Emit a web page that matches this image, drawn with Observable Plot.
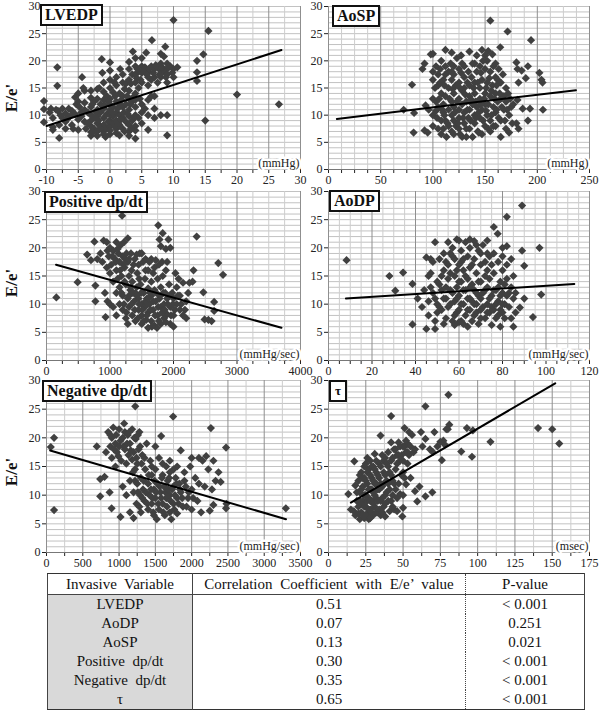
<!DOCTYPE html>
<html><head><meta charset="utf-8">
<script src="https://cdn.jsdelivr.net/npm/d3@7"></script>
<script src="https://cdn.jsdelivr.net/npm/@observablehq/plot@0.6"></script>
<style>
html,body{margin:0;padding:0;background:#fff;}
#fig{position:relative;width:600px;height:713px;background:#fff;font-family:"Liberation Serif","Times New Roman",serif;overflow:hidden;}
#fig svg{position:absolute;}
#fig svg text{paint-order:stroke;font-family:"Liberation Serif","Times New Roman",serif !important;}
.box{position:absolute;border:2px solid #111;background:#fff;font-weight:bold;font-size:16px;line-height:18px;padding:0 3px;white-space:nowrap;color:#111;}
.ylab{position:absolute;font-weight:bold;font-size:17px;transform:translate(-50%,-50%) rotate(-90deg);white-space:nowrap;color:#111;}
table{position:absolute;left:47px;top:573px;width:538px;border-collapse:collapse;font-size:15px;color:#111;}
td{text-align:center;padding:0;height:19px;line-height:19px;}
tr.h td{height:20px;border-bottom:1px solid #444;}
td.c1{width:144px;border-right:1px solid #444;}
td.c2{width:272px;border-right:1.5px dotted #444;word-spacing:4px;}
tr.r td.c1{background:#d9d9d9;}
</style>
</head><body>
<div id="fig"></div>
<script>
// ---------- data ----------
const lvedp = [[-10.4,12.6],[-10.4,11.1],[-10.4,8.7],[-9.5,10.5],[-9,9.5],[-9,7.8],[-9,7.3],[-8.5,11],[-8.3,18.8],[-8.3,15.4],[-8.2,10.8],[-8,5.8],[-8,8.2],[-7.5,11.2],[-7.5,9.5],[-7,10.3],[-7,7.5],[-7,8.8],[-6.5,11.2],[-6.3,9.8],[-6,8.2],[-5.8,7.5],[-5.5,10.2],[-5.5,13.3],[-5.3,12],[-5,14],[-5,12.5],[-5,9.2],[-5,7.3],[-4.5,10.5],[-4.4,17],[-4.2,15],[-4,14.5],[-4,12.3],[-4,11],[-4,8.8],[-3.8,7.5],
[-3,14.5],[-3,13.2],[-3,11.5],[-3,10],[-3,9],[-3,8],[-3,6.9],[-3,6.2],[-2.5,12.5],[-2.5,9.5],[-2.5,7.5],[-2,14.8],[-2,13],[-2,11],[-2,9.8],[-2,8.5],[-2,7],[-2,6.2],[-1.5,12],[-1.5,10.5],[-1.5,8],[-1.3,20.3],[-1.2,17.8],[-1,16],[-1,14.3],[-1,12.8],[-1,11.2],[-1,9.5],[-1,8.2],[-1,7],[-1,6.5],[-0.5,13.5],[-0.5,10.2],[-0.5,7.5],[0,19.7],[0,18.2],[0,16.5],[0,15],[0,13],[0,12],[0,11],[0,10],[0,9],[0,8],[0,7.2],[0,6.5],
[0.5,14.2],[0.5,11.5],[0.5,9.8],[0.5,8.5],[1,17],[1,15.5],[1,12.5],[1,10.5],[1,9],[1,7.5],[1,6.7],[1.5,14],[1.5,12],[1.5,10],[1.5,8.2],[2,17.5],[2,16],[2,13.5],[2,11.5],[2,9.5],[2,7.5],[2.5,15.8],[2.5,12],[2.5,8.8],[3,19.8],[3,18.5],[3,16.5],[3,14.5],[3,13],[3,11],[3,9.8],[3,8.2],[3,7],[3,6.2],[3.5,17.5],[3.5,12.5],[3.5,9],[3.6,21.7],[4,20.5],[4,19],[4,17.5],[4,16],[4,14],[4,12.8],[4,11.5],[4,10],[4,8],[4,7.2],[4,5.7],
[4.5,18],[4.5,15],[4.5,9.5],[5,20.5],[5,19],[5,17.8],[5,16],[5,12],[5,10.5],[5,8.5],[5.7,21.5],[5.5,18.8],[6,18],[6,17],[6,15.5],[6,12.8],[6,10],[6,7.3],[6.6,23.8],[6.5,19],[6.5,16.5],[7,18.5],[7,17],[7,13.5],[7,11.2],[7,9.5],[7.5,18.8],[7.5,16],[8,21.3],[8,19.5],[8,18.2],[8,17],[8,10],[8.5,20.8],[8.5,18],[8.7,22.6],[9,19.5],[9,18.5],[9,17.5],[9,16],[9,10],[9,6.3],[9.5,19],[10,27.5],[10,18.5],[10,17],[10.6,18.8],
[13.7,20],[14.7,21.2],[13.7,17.9],[13.7,16.3],[15.5,25.5],[20,13.8],[26.6,12],[15,9],
[-2.8,12],[-2.2,10.5],[-1.8,9],[-1.6,7.5],[-0.8,11.8],[-0.3,8.8],[-0.2,12.5],[0.3,10.5],[0.8,7.8],[0.8,13.5],[1.2,11.2],[1.3,8.5],[1.8,12.8],[1.7,9.2],[2.2,10.5],[2.3,7],[2.7,13.5],[2.8,10.2],[3.2,12],[3.3,7.5],[3.8,13.5],[3.8,9.5],[4.2,16.8],[4.3,18.5],[4.8,16.5],[5.2,18.2],[5.8,17.5],[6.2,18.5],[6.8,17.8],[7.2,19.2],[7.8,17.5],[8.2,18.8],[8.8,17],[9.2,18.8],[9.8,17.8],[-6,10.8],[-7.8,10],[-9.3,11.2],[-4.8,11.5],[-3.5,10.5],[-3.5,8.5],[-2.7,6.8],[-0.7,6],[1.5,6.3],[-4.5,9.8],[-6.8,9.2],[5.5,11.2],[6.5,13.5],[4.7,13],[2.3,14.8],[-1.7,15],[0.7,16],[1.6,18.5],[3.3,15.8]];
const lvedpTrend = [[-10,8],[27,22]];

const aosp = [[72,11],[80,15.6],[81.5,6.8],[82,10.4],[90,18.5],[92,19.5],[92,7.2],[95,6.8],[93,11.8],[96,11],[98,21.2],[100,21.3],[100,18],[100,16.5],[100,13],[100,10],[100,8],[103,19],[103,12.5],[104,9.5],[105,17.5],[105,15.5],[105,11.5],[105,7.5],[107,18.5],[108,20],[108,14],[108,9],[108,6.5],[110,16.5],[110,12],[110,10.5],[110,7.5],[112,22],[112,19],[112,17.5],[112,13.5],[112,9],[113,6],[115,18],[115,15],[115,11],[115,8],[118,21.5],[118,16.5],[118,12.5],[118,10],[118,7],[120,19],[120,17.5],[120,14],[120,11.5],[120,9],[120,6.5],[122,15.5],[122,8],[123,20.5],[125,18.5],[125,16],[125,13],[125,11],[125,9.5],[125,7.5],[127,21],[128,14.5],[128,12],[128,6],[130,19],[130,17],[130,15],[130,10.5],[130,8.5],[132,12.5],[132,6],[134,18],[134,9.5],[135,21.7],[135,15.5],[135,13.5],[135,11],[135,7.5],[137,17],[138,19.5],[138,12],[138,6],[140,16],[140,14],[140,10],[140,8.5],[142,21],[142,18],[142,11.5],[143,7],[145,19],[145,15],[145,13],[145,9.5],[147,22],[147,16.5],[147,11],[147,6.5],[150,21],[150,18.5],[150,14],[150,12],[150,8],[152,20],[152,16],[152,10],[153,21.8],[155,27.4],[155,18],[155,13.5],[155,9],[155,7],[157,21.2],[157,15.5],[158,11.5],[160,19.5],[160,17],[160,14],[160,10.5],[160,8],[162,12.5],[163,18.5],[164.5,22.5],[165,16],[165,13],[165,9],[165,6],[167,17.5],[168,11],[170,15],[170,12.5],[170,7.5],[171.5,25.4],[172,14],[173,10],[173,6.8],[175,11.5],[176,8.5],[177,12],[180,19.7],[181,18.5],[182,16],[181,12.8],[180,8.5],[182,7.5],[185,18.2],[186,11.2],[189,16.8],[191,19],[191,9],[193,11.2],[194,23.8],[202,17.8],[204,16.5],[205,16],[205.4,11],
[102,15],[106,13],[109,11],[111,15.5],[114,8.5],[116,13],[117,19.5],[119,14.8],[121,10.5],[123,12.5],[124,8.5],[126,15],[127,17.8],[129,9.5],[131,13.8],[133,11],[133,16],[136,9],[137,12.8],[139,15],[141,9.5],[141,12.5],[143,16],[144,10.5],[146,12],[146,17.8],[148,9],[149,13],[151,10.8],[151,15],[153,12],[154,16.8],[156,10],[156,14.5],[158,8],[159,13],[161,11],[161,15.5],[163,9.5],[164,14],[166,11.5],[168,13.5],[169,9],[171,11],[174,13],[118,18],[128,19.5],[140,19.5],[148,20],[132,7.5],[126,6.5],[144,6.8],[153,7.5],[111,10],[107,16],[103,10.8],[158,19],[162,16.5]];
const aospTrend = [[8,9.3],[237,14.6]];

const posdp = [[155,11.2],[490,13.9],[640,18.8],[700,17.8],[755,21.1],[770,13.3],[770,10.5],[800,18],[850,19],[880,17.5],[900,21.3],[920,12],[930,7.7],[950,21],[950,16.5],[960,10.5],[980,18.5],[1000,20],[1000,15.5],[1000,10],[1020,17],[1050,19.5],[1050,14],[1050,9.5],[1080,18],[1100,21],[1100,16],[1100,12],[1100,8],[1130,19],[1150,17.5],[1150,13],[1150,10],[1170,20.5],[1180,15],[1190,25.7],[1200,18.5],[1200,11.5],[1200,9],[1220,21],[1230,16.5],[1250,13.5],[1250,7.5],[1260,19],[1280,21.7],[1280,17.5],[1280,11],[1280,6.5],[1300,15],[1300,9.5],[1320,12.5],[1330,19],[1350,8],[1350,14],[1370,17],[1380,10.5],[1400,12],[1400,7],[1420,18.8],[1430,15.5],[1450,11],[1450,9],[1470,19],[1480,13.5],[1500,8],[1500,10],[1500,6.5],[1520,17.5],[1530,12],[1550,14.5],[1550,9.5],[1560,18],[1570,7.2],[1580,11],[1600,16],[1600,12.8],[1600,8.5],[1600,5.8],[1620,10],[1650,18],[1650,14],[1650,11.5],[1650,7],[1680,9],[1700,16.5],[1700,12.5],[1700,6.2],[1720,10.5],[1740,5.8],[1750,14.5],[1750,8],[1760,24],[1770,17],[1780,21.5],[1780,11],[1800,20.3],[1800,13],[1800,9.5],[1800,6.5],[1830,22.6],[1830,15],[1850,10],[1850,7.5],[1870,12],[1880,19.8],[1900,17.5],[1900,11],[1900,8.2],[1920,21.5],[1930,13.5],[1950,20],[1950,9.5],[1950,6.5],[1980,12],[2000,11],[2000,8],[2000,6],[2030,15.5],[2050,10],[2050,13],[2080,14.5],[2100,9],[2100,11.5],[2150,8],[2150,13.8],[2200,10.5],[2200,7.5],[2230,12],[2250,13.8],[2300,14],[2315,16],[2365,22],[2470,12.1],[2490,7.3],[2550,7.2],[2600,7],[2640,8.8],[2640,10.4],[2705,17.3],[2780,15.2],
[1120,14.5],[1180,12],[1220,10],[1260,8.5],[1300,11.5],[1340,10],[1360,12],[1390,9],[1420,13],[1440,7.5],[1460,10],[1490,12],[1510,9],[1530,7],[1560,10.5],[1580,8],[1600,11],[1630,12],[1640,9],[1660,6],[1680,10.5],[1710,8],[1730,12],[1760,9.5],[1770,7],[1790,11.5],[1820,8.5],[1840,12],[1860,9],[1880,6.8],[1910,10],[1940,11.5],[1960,8],[1990,10],[2020,9],[2070,11.5],[2120,10],[2180,9],[960,19.5],[1040,18.5],[1090,17.5],[1120,19.8],[1160,16],[1210,17],[1240,18],[1300,18],[1340,16],[1390,18],[1450,17],[1500,19],[1560,16],[1620,17.5],[1680,15.5],[1720,17.8],[1820,17.5],[1880,16],[1230,14],[1330,13],[1420,11.5],[1460,14.5]];
const posdpTrend = [[150,17],[3700,5.8]];

const aodp = [[8.3,17.8],[28,15],[30.7,12.4],[34.3,15.6],[38.6,13.6],[38.6,6.4],[41,11],[43,9.5],[44,12.5],[45,18.3],[45,5.6],[46,15],[46,10.5],[46,8],[47,18],[47,13],[48,12],[48,17.5],[49,21],[49,5.6],[49,7],[50,14],[50,10],[50,8.5],[51,18],[52,12.5],[52,9],[53,19],[53,16],[53,6.5],[54,11],[54,7.5],[55,21],[55,17],[55,14.5],[55,9.5],[56,12.5],[57,20],[57,7],[58,18],[58,15],[58,10.5],[58,6.3],[59,21.5],[59,13],[59,8.5],[60,21.3],[60,17],[60,11.5],[60,9],[61,19.5],[61,14],[61,7],[62,16],[62,10],[62,6.5],[63,21],[63,12.5],[63,8],[64,18.5],[64,14.5],[64,6],[65,21.5],[65,20],[65,16.5],[65,11],[65,9],[66,13.5],[66,7],[67,21.2],[67,18],[67,10],[68,15.5],[68,12],[68,8.5],[69,19.5],[69,6.5],[70,17],[70,14],[70,11],[70,9],[71,20.5],[72,12.5],[72,7.5],[73,21.3],[73,16],[73,10],[74,18.5],[74,14.5],[74,8.5],[75,11.5],[75,6.3],[76,23.7],[76,19],[76,15.5],[76,9],[77,12.5],[77,7.5],[77.8,22.5],[78,17.5],[78,10.5],[79,14],[79,6],[80,18.5],[80,16],[80,8.5],[80,12],[81,10],[82,25.5],[82,20.3],[82,17],[82,14.5],[82,11.5],[83,9.5],[84,18],[84,7.5],[84,13],[85,15],[85,6],[85,11],[86,12],[86,8.5],[88,9.4],[89,27.5],[89,19.5],[90,16.8],[90,11],[94,7.7],[97,20],[97.8,11.7],
[47,15.5],[49,11],[51,9.5],[51,13.5],[52,15],[53,11],[54,13],[56,10],[56,15.5],[57,12],[57,18.5],[58,8],[59,11],[60,14],[60,6.8],[61,10],[62,12.5],[62,18],[63,15],[64,9],[64,11],[65,13],[66,10.5],[66,17],[67,12.5],[67,8],[68,10],[69,14],[69,11.5],[70,7.5],[70,19],[71,12],[71,9.5],[72,15],[72,17.5],[73,8.5],[73,13],[74,11],[75,9.5],[75,17],[76,12.5],[77,10],[78,13],[78,8],[79,11.5],[79,9],[80,10],[81,13.5],[81,7.5],[83,12],[59,16],[56,19],[54,17.5],[61,17.5],[68,20.5],[73,19],[80,20]];
const aodpTrend = [[8,11],[113,13.6]];

const negdp = [[59,18.4],[104,20],[104,7.4],[693,18.5],[740,12.8],[740,9.8],[800,13.2],[820,17.5],[850,21],[870,10.5],[880,18.5],[897,7.7],[900,20],[900,16.5],[920,21.8],[950,19],[950,15],[970,17.5],[1000,21.5],[1000,18.5],[1020,6.2],[1030,16],[1050,20],[1050,11.5],[1070,22.5],[1080,18],[1100,15.5],[1100,10],[1120,20.5],[1130,17],[1150,19],[1150,12.5],[1150,7],[1180,21.5],[1190,14],[1200,17.5],[1200,10.5],[1200,6],[1223,25.5],[1230,19.8],[1240,8.5],[1250,15.5],[1250,12],[1270,18],[1280,21],[1290,10],[1300,13],[1300,7],[1320,17],[1330,11],[1350,9],[1360,14.5],[1380,19],[1400,12],[1400,7.5],[1420,10],[1430,16],[1450,13.5],[1450,8.5],[1480,11],[1480,6.5],[1500,18.5],[1500,14.5],[1500,9.5],[1520,5.8],[1530,12],[1550,16.5],[1550,7.5],[1570,10.5],[1580,20.3],[1600,13.5],[1600,8.5],[1620,11.5],[1630,6.5],[1650,15],[1650,9.5],[1670,12.5],[1700,10],[1700,14],[1700,7],[1720,5.8],[1745,23.7],[1750,11.5],[1750,8.5],[1780,13],[1800,15],[1800,9.5],[1800,6.8],[1830,12],[1850,17.8],[1850,10.5],[1880,8],[1900,14],[1920,11.5],[1950,9.5],[1980,15],[2000,16.5],[2000,11],[2000,7.5],[2050,13],[2080,9],[2100,16.5],[2100,12],[2130,7],[2150,16],[2180,11.5],[2200,16.8],[2230,14.5],[2250,7.3],[2265,21.7],[2280,11],[2300,16],[2300,8.3],[2330,12.5],[2370,14],[2400,12.3],[2474,18.3],[2480,8.5],[2474,7.7],[3298,7.7],
[880,20.5],[930,18],[960,20.5],[990,16.8],[1020,19.5],[1060,18.5],[1080,21],[1110,19],[1140,21],[1160,17.8],[1210,20],[1240,16.5],[1260,20.5],[1290,18.5],[1310,15.5],[1220,12.5],[1260,10.5],[1280,8],[1320,9.5],[1340,12.5],[1370,10.5],[1390,8.5],[1410,13.5],[1440,11],[1460,9.5],[1470,7],[1490,12.5],[1510,10.5],[1540,8.5],[1560,11.5],[1580,9.5],[1590,13],[1610,7],[1640,10.5],[1660,8],[1680,11],[1690,13],[1710,9],[1730,11],[1760,7.5],[1770,10],[1790,12],[1820,8.5],[1840,11],[1870,9.5],[1900,12.5],[1930,8],[1960,10.5],[2020,9.5],[1600,15.5],[1700,16],[1750,14.5],[1450,15],[1350,16.5],[1180,16.2],[1220,14.5]];
const negdpTrend = [[50,17.8],[3300,5.8]];

const tau = [[13.3,10.2],[15,7.5],[17,7.2],[17.3,15.9],[18,11.7],[18,6.5],[19,9],[20,12.5],[20,8],[21,10.5],[21,5.8],[22,14],[22,7],[23,11.5],[23,9],[24,13],[24,6],[25,15.5],[25,10],[25,8],[26,16.5],[26,12],[26,6.8],[27,14.5],[27,9.5],[27,5.8],[28,16],[28,11],[28,7.5],[29,13],[29,9],[30,15],[30,10.5],[30,6.5],[31,17.2],[31,12],[31,8],[32,14],[32,9.5],[33,11],[33,7],[34,15.5],[34,13],[34.9,20.4],[35,9],[35,6.5],[36,17],[36,11.5],[37,14],[37,8],[38,16.5],[38,10],[38,6.3],[39,12.5],[40,17.5],[40,15],[40,9],[41,11],[41,7.2],[42,23.8],[42,19.2],[42,13.5],[43,16.5],[43,10],[44,12],[44,7.5],[45,18],[45,14.5],[46,17],[46,9.5],[46,7.2],[47,19.2],[47,12],[48,16],[48,10.2],[49.5,6.3],[50,18.5],[50,14],[50,10],[50,7.8],[51,21.7],[51,13],[52,17.5],[52,11.9],[53,19],[53,15.5],[54,21],[54,17],[55,18.5],[55,13],[56,20.5],[57,17.5],[58,18],[58,10.7],[59.5,8.9],[61,11.5],[62,21],[63,18.5],[65,9.8],[65,25.5],[65,19.8],[68,18],[69.6,10.5],[70,17.5],[71,21],[73,18.5],[75,19.3],[76,16.1],[77,19.5],[78,18.8],[79,21.5],[80,21.5],[80.4,27.5],[81,22.3],[89,17.6],[92.8,21.7],[96.2,16.7],[96.8,21.3],[108.6,19.3],[140.5,21.7],[150,21.5],[154.7,19],
[19,10.5],[20,6.8],[21,9],[21,13.5],[22,8.5],[22,11],[23,6.5],[23,13],[24,10],[24,8],[24,15],[25,12.5],[25,6.5],[26,9],[26,14],[27,11],[27,7.5],[28,13.5],[28,9],[28,6],[29,11],[29,15],[29,7],[30,12.5],[30,8.5],[31,10],[31,14.5],[32,7],[32,12],[32,16],[33,9],[33,13.5],[34,11],[34,7.5],[35,12],[35,15],[36,9.5],[36,7],[37,12],[37,16],[38,8.5],[38,13.5],[39,10.5],[39,15.5],[40,12],[41,14],[42,9],[42,16],[43,12.5],[44,18],[46,15.5],[47,17],[48,18.5],[49,17],[50,16],[51,18.5],[52,19.5],[53,17.5],[49,13.5],[45,11],[43,8]];
const tauTrend = [[15,8.7],[152,29.5]];

// tick labels
const lvedpTicks = [-10,-5,0,5,10,15,20,25,30];
const aospTicks = [0,50,100,150,200,250];
const posdpTicks = [0,1000,2000,3000,4000];
const aodpTicks = [0,20,40,60,80,100,120];
const negdpTicks = [0,500,1000,1500,2000,2500,3000,3500];
const tauTicks = [0,25,50,75,100,125,150,175];
const yTicks = [0,5,10,15,20,25,30];

// table
const tableVars = ["LVEDP","AoDP","AoSP","Positive  dp/dt","Negative  dp/dt","τ"];
const tableCorr = ["0.51","0.07","0.13","0.30","0.35","0.65"];
const tablePval = ["< 0.001","0.251","0.021","< 0.001","< 0.001","< 0.001"];

// ---------- drawing ----------
const fig = document.getElementById("fig");

function panel(o) {
  const major = o.ticks;
  const step = major[1] - major[0];
  const minorStep = step / o.div;
  const all = d3.range(0, Math.round((major[major.length-1]-major[0])/minorStep)+1).map(i => major[0] + i*minorStep);
  const isMajor = d => Math.abs((d - major[0])/step - Math.round((d - major[0])/step)) < 1e-6;
  const minor = all.filter(d => !isMajor(d));
  const plot = Plot.plot({
    width: o.w, height: o.h,
    marginLeft: o.mL, marginRight: o.mR, marginTop: o.mT, marginBottom: o.mB,
    style: {fontFamily: '"Liberation Serif", serif', fontSize: "12px", color: "#222", background: "transparent", overflow: "visible"},
    x: {domain: [major[0], major[major.length-1]], ticks: all, tickFormat: d => isMajor(d) ? String(Math.round(d)) : "", tickSize: 4, tickPadding: 2, label: null},
    y: {domain: [0, 30], ticks: yTicks, tickSize: 4, tickPadding: 2, label: null},
    marks: [
      Plot.ruleY(d3.range(1, 31), {stroke: "#c2c2c2", strokeWidth: 1}),
      Plot.ruleX(minor, {stroke: "#cdcdcd", strokeWidth: 1}),
      Plot.ruleX(major, {stroke: "#8f8f8f", strokeWidth: 1}),
      Plot.ruleY([0], {stroke: "#777", strokeWidth: 1}),
      Plot.dot(o.data, {x: d => d[0], y: d => d[1], symbol: "diamond2", r: 3.7, fill: "#404040", stroke: "none"}),
      Plot.line(o.trend, {x: d => d[0], y: d => d[1], stroke: "#000", strokeWidth: 2}),
      Plot.text([o.unit], {text: d => d, frameAnchor: "bottom-right", dx: -1, dy: -3, fontSize: 12, fill: "#222", stroke: "#fff", strokeWidth: 5})
    ]
  });
  plot.style.left = o.left + "px";
  plot.style.top = o.top + "px";
  fig.appendChild(plot);
  const b = document.createElement("div");
  b.className = "box";
  b.textContent = o.title;
  b.style.left = o.bx + "px";
  b.style.top = o.by + "px";
  if (o.small) { b.style.fontSize = "13px"; b.style.padding = "0 4px"; }
  fig.appendChild(b);
}

const L = {left: 0, w: 302, mL: 46, mR: 2};
const R = {left: 300, w: 300, mL: 28, mR: 11};
const R1 = {top: 0, h: 189, mT: 6, mB: 20};
const R2 = {top: 185, h: 193, mT: 6, mB: 18};
const R3 = {top: 374, h: 196, mT: 6, mB: 18};

panel({...L, ...R1, data: lvedp, trend: lvedpTrend, ticks: lvedpTicks, div: 2, unit: "(mmHg)", title: "LVEDP", bx: 40, by: 4});
panel({...R, ...R1, data: aosp, trend: aospTrend, ticks: aospTicks, div: 4, unit: "(mmHg)", title: "AoSP", bx: 332, by: 5});
panel({...L, ...R2, data: posdp, trend: posdpTrend, ticks: posdpTicks, div: 4, unit: "(mmHg/sec)", title: "Positive dp/dt", bx: 44, by: 191});
panel({...R, ...R2, data: aodp, trend: aodpTrend, ticks: aodpTicks, div: 4, unit: "(mmHg/sec)", title: "AoDP", bx: 329, by: 190});
panel({...L, ...R3, data: negdp, trend: negdpTrend, ticks: negdpTicks, div: 2, unit: "(mmHg/sec)", title: "Negative dp/dt", bx: 42, by: 380});
panel({...R, ...R3, data: tau, trend: tauTrend, ticks: tauTicks, div: 2, unit: "(msec)", title: "τ", bx: 329, by: 380, small: true});

[[12, 98], [12, 283], [12, 472]].forEach(([x, y]) => {
  const t = document.createElement("div");
  t.className = "ylab";
  t.textContent = "E/e'";
  t.style.left = x + "px";
  t.style.top = y + "px";
  fig.appendChild(t);
});

const table = document.createElement("table");
table.style.borderTop = "1.5px solid #333";
table.style.borderBottom = "1.5px solid #333";
table.style.borderLeft = "1px solid #444";
table.style.borderRight = "1px solid #444";
let html = '<tr class="h"><td class="c1">Invasive&nbsp; Variable</td><td class="c2">Correlation Coefficient with E/e\u2019 value</td><td>P-value</td></tr>';
tableVars.forEach((v, i) => {
  html += `<tr class="r"><td class="c1" style="white-space:pre">${v}</td><td class="c2">${tableCorr[i]}</td><td>${tablePval[i]}</td></tr>`;
});
table.innerHTML = html;
fig.appendChild(table);
</script>
</body></html>
